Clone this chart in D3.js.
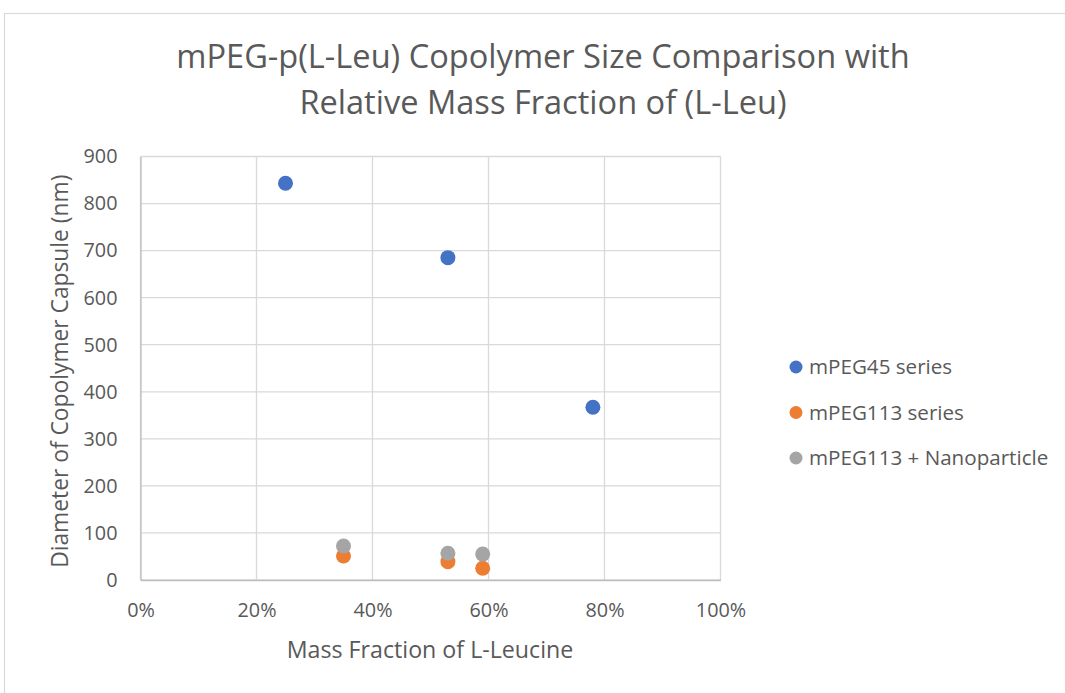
<!DOCTYPE html>
<html>
<head>
<meta charset="utf-8">
<script src="https://cdn.jsdelivr.net/npm/d3@7"></script>
<style>
  body { margin: 0; background: #fff; }
  text { font-family: "Open Sans", "Liberation Sans", sans-serif; fill: #595959; }
</style>
</head>
<body>
<svg id="chart" width="1065" height="693"></svg>
<script>
// mPEG-p(L-Leu) scatter: diameter vs mass fraction

const titleLines = ["mPEG-p(L-Leu) Copolymer Size Comparison with", "Relative Mass Fraction of (L-Leu)"];
const xTicks = [0, 0.2, 0.4, 0.6, 0.8, 1.0];
const yTicks = [0, 100, 200, 300, 400, 500, 600, 700, 800, 900];

const seriesNames = ["mPEG45 series", "mPEG113 series", "mPEG113 + Nanoparticle"];
const seriesColors = ["#4472C4", "#ED7D31", "#A5A5A5"];

const mpeg45X = [0.25, 0.53, 0.78];
const mpeg45Y = [843, 685, 367];
const mpeg113X = [0.35, 0.53, 0.59];
const mpeg113Y = [51, 39, 25];
const nanoX = [0.35, 0.53, 0.59];
const nanoY = [72, 57, 55];

const series = [
    { name: seriesNames[0], color: seriesColors[0], xs: mpeg45X, ys: mpeg45Y },
    { name: seriesNames[1], color: seriesColors[1], xs: mpeg113X, ys: mpeg113Y },
    { name: seriesNames[2], color: seriesColors[2], xs: nanoX, ys: nanoY }
];

const svg = d3.select("#chart");

// outer chart border
svg.append("rect")
    .attr("x", 4.5).attr("y", 13.5)
    .attr("width", 1100).attr("height", 700)
    .attr("fill", "none")
    .attr("stroke", "#d9d9d9")
    .attr("stroke-width", 1.2);

const plot = { left: 140.5, right: 720.5, top: 156.5, bottom: 580 };

const x = d3.scaleLinear().domain([0, 1]).range([plot.left, plot.right]);
const y = d3.scaleLinear().domain([0, 900]).range([plot.bottom, plot.top]);

// title
svg.append("text")
    .attr("x", 543).attr("y", 68)
    .attr("text-anchor", "middle")
    .attr("font-size", 32.6)
    .selectAll("tspan")
    .data(titleLines)
    .join("tspan")
    .attr("x", 543)
    .attr("dy", (d, i) => i === 0 ? 0 : 46)
    .text(d => d);

// gridlines
const grid = svg.append("g");
grid.selectAll("line.h")
    .data(yTicks)
    .join("line")
    .attr("class", "h")
    .attr("x1", plot.left).attr("x2", plot.right)
    .attr("y1", d => y(d)).attr("y2", d => y(d))
    .attr("stroke", "#d9d9d9").attr("stroke-width", 1.3);
grid.selectAll("line.v")
    .data(xTicks)
    .join("line")
    .attr("class", "v")
    .attr("x1", d => x(d)).attr("x2", d => x(d))
    .attr("y1", plot.top).attr("y2", plot.bottom)
    .attr("stroke", "#d9d9d9").attr("stroke-width", 1.3);

// axes (labels only, lines drawn as grid)
const xAxis = svg.append("g")
    .attr("transform", `translate(0,${plot.bottom})`)
    .call(d3.axisBottom(x).tickValues(xTicks).tickFormat(d3.format(".0%")).tickSize(0).tickPadding(23));
xAxis.select(".domain").attr("stroke", "#bfbfbf").attr("stroke-width", 1.3);
xAxis.selectAll("text").attr("font-size", 19.8).attr("fill", "#595959");

const yAxis = svg.append("g")
    .attr("transform", `translate(${plot.left},0)`)
    .call(d3.axisLeft(y).tickValues(yTicks).tickSize(0).tickPadding(23));
yAxis.select(".domain").attr("stroke", "#bfbfbf").attr("stroke-width", 1.3);
yAxis.selectAll("text").attr("font-size", 19.8).attr("fill", "#595959");

// axis titles
svg.append("text")
    .attr("x", 430).attr("y", 658)
    .attr("text-anchor", "middle")
    .attr("font-size", 23.2)
    .text("Mass Fraction of L-Leucine");

svg.append("text")
    .attr("transform", `translate(68,${(plot.top + plot.bottom) / 2 + 3}) rotate(-90)`)
    .attr("text-anchor", "middle")
    .attr("font-size", 22.8)
    .text("Diameter of Copolymer Capsule (nm)");

// markers
series.forEach(s => {
    svg.append("g").selectAll("circle")
        .data(s.xs.map((v, i) => [v, s.ys[i]]))
        .join("circle")
        .attr("cx", d => x(d[0]))
        .attr("cy", d => y(d[1]))
        .attr("r", 7.5)
        .attr("fill", s.color);
});

// legend
const legend = svg.append("g").attr("transform", "translate(796,367)");
const rows = legend.selectAll("g")
    .data(series)
    .join("g")
    .attr("transform", (d, i) => `translate(0,${i * 45.5})`);
rows.append("circle").attr("r", 6.5).attr("fill", d => d.color);
rows.append("text")
    .attr("x", 13).attr("y", 7)
    .attr("font-size", 20.6)
    .text(d => d.name);
</script>
</body>
</html>
